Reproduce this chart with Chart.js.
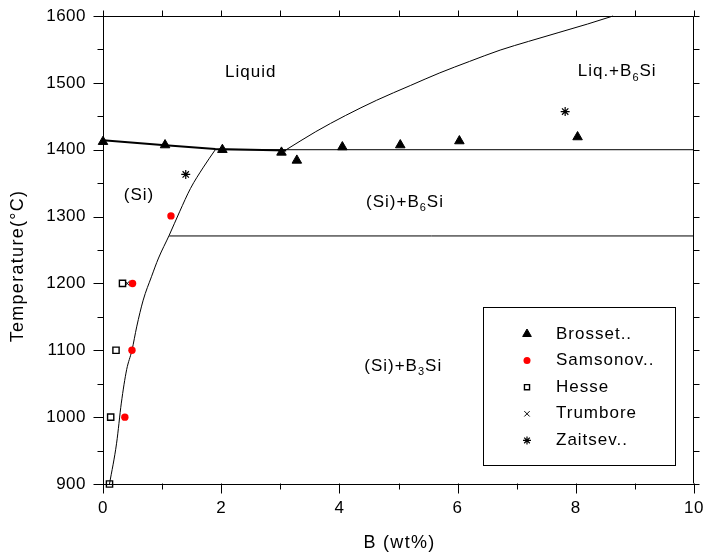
<!DOCTYPE html>
<html><head><meta charset="utf-8">
<script src="https://cdn.jsdelivr.net/npm/chart.js@4.4.1/dist/chart.umd.min.js"></script>
<style>html,body{margin:0;padding:0;background:#fff;}canvas{display:block;}</style>
</head><body>
<canvas id="c" width="704" height="557"></canvas>
<script>
// ---- axis ticks ----
const xTicks = [0, 2, 4, 6, 8, 10];
const yTicks = [900, 1000, 1100, 1200, 1300, 1400, 1500, 1600];

// ---- experimental series (B wt%, Temperature °C) ----
const seriesNames = ['Brosset..', 'Samsonov..', 'Hesse', 'Trumbore', 'Zaitsev..'];
const brossetB = [0, 1.05, 2.02, 3.02, 3.28, 4.05, 5.03, 6.03, 8.03];
const brossetT = [1412, 1407, 1400, 1396, 1384, 1404, 1407, 1413, 1419];
const samsonovB = [0.37, 0.49, 0.50, 1.15];
const samsonovT = [1000, 1100, 1200, 1301];
const hesseB = [0.11, 0.13, 0.22, 0.33];
const hesseT = [900, 1000, 1100, 1200];
const trumboreB = [0.41];
const trumboreT = [1200];
const zaitsevB = [1.40, 7.82];
const zaitsevT = [1363, 1457];

// ---- phase boundaries ----
const liqLeftB = [0, 1, 1.9, 3.1];
const liqLeftT = [1414, 1407, 1401, 1399];
const liqRightB = [3.1, 3.6, 4.1, 4.63, 5.2, 5.7, 6.2, 6.72, 7.2, 7.7, 8.2, 8.63];
const liqRightT = [1400, 1427, 1451, 1474, 1496, 1515, 1532, 1549, 1562, 1575, 1588, 1600];
const solvusB = [0.11, 0.23, 0.31, 0.40, 0.49, 0.57, 0.68, 0.82, 0.94, 1.12, 1.30, 1.48, 1.70, 1.90];
const solvusT = [900, 961, 1021, 1071, 1100, 1135, 1175, 1210, 1238, 1272, 1308, 1342, 1374, 1400];
const eutB = [1.9, 10];
const eutT = [1400, 1400];
const perB = [1.12, 10];
const perT = [1271, 1271];

// ---- region labels: [main, subscript, tail] ----
const regionText = [['Liquid', '', ''], ['Liq.+B', '6', 'Si'], ['(Si)', '', ''], ['(Si)+B', '6', 'Si'], ['(Si)+B', '3', 'Si']];
const regionB = [2.5, 8.7, 0.61, 5.11, 5.08];
const regionT = [1516, 1517, 1332, 1322, 1076];

const pts = (xs, ys) => xs.map((v, i) => ({x: v, y: ys[i]}));
const FONT = '"Liberation Sans", Arial, sans-serif';

const markerStyles = [
  {pointStyle: 'triangle', radius: 5.5, bg: '#000', border: '#000', bw: 1},
  {pointStyle: 'circle', radius: 3.7, bg: '#ff0000', border: '#ff0000', bw: 0},
  {pointStyle: 'rect', radius: 4.4, bg: 'rgba(255,255,255,0)', border: '#000', bw: 1.4},
  {pointStyle: 'crossRot', radius: 3.5, bg: '#000', border: '#000', bw: 1},
  {pointStyle: 'star', radius: 4.5, bg: '#000', border: '#000', bw: 1.2}
];
const seriesData = [pts(brossetB, brossetT), pts(samsonovB, samsonovT), pts(hesseB, hesseT), pts(trumboreB, trumboreT), pts(zaitsevB, zaitsevT)];

const datasets = seriesData.map((d, i) => ({
  label: seriesNames[i], data: d, showLine: false, clip: false,
  pointStyle: markerStyles[i].pointStyle, pointRadius: markerStyles[i].radius,
  pointBackgroundColor: markerStyles[i].bg, pointBorderColor: markerStyles[i].border,
  pointBorderWidth: markerStyles[i].bw
}));
function lineDs(xs, ys, w, smooth) {
  return {data: pts(xs, ys), showLine: true, pointRadius: 0, borderColor: '#000', borderWidth: w,
    cubicInterpolationMode: smooth ? 'monotone' : 'default', tension: 0, clip: false};
}
datasets.push(lineDs(liqLeftB, liqLeftT, 2, false));
datasets.push(lineDs(liqRightB, liqRightT, 1, true));
datasets.push(lineDs(solvusB, solvusT, 1, true));
datasets.push(lineDs(eutB, eutT, 1, false));
datasets.push(lineDs(perB, perT, 1, false));

const spacingPlugin = {
  id: 'spacing',
  beforeInit(chart) { chart.ctx.letterSpacing = '0.5px'; },
  beforeDraw(chart) { chart.ctx.letterSpacing = '0.5px'; }
};

function drawSubText(ctx, parts, cx, cy, size) {
  ctx.save();
  ctx.letterSpacing = '1px';
  ctx.textBaseline = 'middle';
  ctx.textAlign = 'left';
  const main = size + 'px ' + FONT, sub = '11px ' + FONT;
  ctx.font = main; const w1 = ctx.measureText(parts[0]).width;
  ctx.font = sub; const w2 = parts[1] ? ctx.measureText(parts[1]).width : 0;
  ctx.font = main; const w3 = parts[2] ? ctx.measureText(parts[2]).width : 0;
  let x = cx - (w1 + w2 + w3) / 2;
  ctx.fillStyle = '#000';
  ctx.font = main; ctx.fillText(parts[0], x, cy); x += w1;
  if (parts[1]) { ctx.font = sub; ctx.fillText(parts[1], x, cy + 6); x += w2; }
  if (parts[2]) { ctx.font = main; ctx.fillText(parts[2], x, cy); }
  ctx.restore();
}

function drawMarker(ctx, st, x, y, r) {
  if (Chart.helpers && Chart.helpers.drawPoint) {
    ctx.save();
    ctx.fillStyle = st.bg; ctx.strokeStyle = st.border; ctx.lineWidth = st.bw || 1;
    Chart.helpers.drawPoint(ctx, {pointStyle: st.pointStyle, radius: r, rotation: 0, borderWidth: st.bw}, x, y);
    ctx.restore();
  }
}

const decoPlugin = {
  id: 'deco',
  afterDraw(chart) {
    const {ctx, chartArea: a, scales: {x, y}} = chart;
    ctx.save();
    ctx.strokeStyle = '#000'; ctx.lineWidth = 1;
    ctx.beginPath();
    const L = Math.round(a.left) + 0.5, R = Math.round(a.right) - 0.5, T = Math.round(a.top) + 0.5, B = Math.round(a.bottom) - 0.5;
    ctx.moveTo(L, T); ctx.lineTo(R, T); ctx.lineTo(R, B);
    for (let v = 0; v <= 10; v += 1) {
      const px = Math.round(x.getPixelForValue(v)) + 0.5;
      const major = v % 2 === 0;
      ctx.moveTo(px, B); ctx.lineTo(px, B + (major ? 10 : 6));
      ctx.moveTo(px, T); ctx.lineTo(px, T - 6);
    }
    for (let v = 900; v <= 1600; v += 50) {
      const py = Math.round(y.getPixelForValue(v)) + 0.5;
      const major = v % 100 === 0;
      ctx.moveTo(L, py); ctx.lineTo(L - (major ? 10 : 6), py);
      ctx.moveTo(R, py); ctx.lineTo(R + 6, py);
    }
    ctx.stroke();
    ctx.restore();

    // region labels
    regionText.forEach((p, i) => {
      drawSubText(ctx, p, x.getPixelForValue(regionB[i]), y.getPixelForValue(regionT[i]), 17);
    });

    // axis titles
    ctx.save();
    ctx.fillStyle = '#000';
    ctx.letterSpacing = '1.3px';
    ctx.font = '18px ' + FONT;
    ctx.textAlign = 'center'; ctx.textBaseline = 'middle';
    ctx.fillText('B (wt%)', (a.left + a.right) / 2 + 1, a.bottom + 59);
    ctx.translate(18.5, (a.top + a.bottom) / 2 + 16);
    ctx.rotate(-Math.PI / 2);
    ctx.fillText('Temperature(\u00B0C)', 0, 0);
    ctx.restore();

    // legend
    ctx.save();
    ctx.strokeStyle = '#000'; ctx.lineWidth = 1;
    const bx = a.right - 211, by = a.top + 291;
    ctx.strokeRect(bx + 0.5, by + 0.5, 192, 158);
    ctx.font = '17px ' + FONT; ctx.letterSpacing = '1px';
    ctx.textAlign = 'left'; ctx.textBaseline = 'middle';
    const legendR = [5, 3.5, 3.6, 3.8, 4];
    seriesNames.forEach((n, i) => {
      const ry = by + 27 + i * 26.6;
      drawMarker(ctx, markerStyles[i], bx + 44, ry, legendR[i]);
      ctx.fillStyle = '#000';
      ctx.fillText(n, bx + 73, ry);
    });
    ctx.restore();
  }
};

new Chart(document.getElementById('c'), {
  type: 'scatter',
  data: {datasets},
  options: {
    responsive: false, animation: false,
    layout: {padding: {top: 16, right: 10, left: 0, bottom: 0}},
    plugins: {legend: {display: false}, tooltip: {enabled: false}},
    scales: {
      x: {
        type: 'linear', min: 0, max: 10,
        afterFit(s) { s.height = 73; s.paddingLeft = 0; s.paddingRight = 0; },
        afterBuildTicks(s) { s.ticks = xTicks.map(v => ({value: v})); },
        grid: {display: false, drawTicks: false},
        border: {display: true, color: '#000', width: 1},
        ticks: {color: '#000', font: {family: FONT, size: 17}, padding: 14, maxRotation: 0, autoSkip: false,
          callback: v => String(v)}
      },
      y: {
        type: 'linear', min: 900, max: 1600,
        afterFit(s) { s.width = 103; s.paddingTop = 0; s.paddingBottom = 0; },
        afterBuildTicks(s) { s.ticks = yTicks.map(v => ({value: v})); },
        grid: {display: false, drawTicks: false},
        border: {display: true, color: '#000', width: 1},
        ticks: {color: '#000', font: {family: FONT, size: 17}, padding: 17, autoSkip: false,
          callback: v => String(v)}
      }
    }
  },
  plugins: [spacingPlugin, decoPlugin]
});
</script>
</body></html>
